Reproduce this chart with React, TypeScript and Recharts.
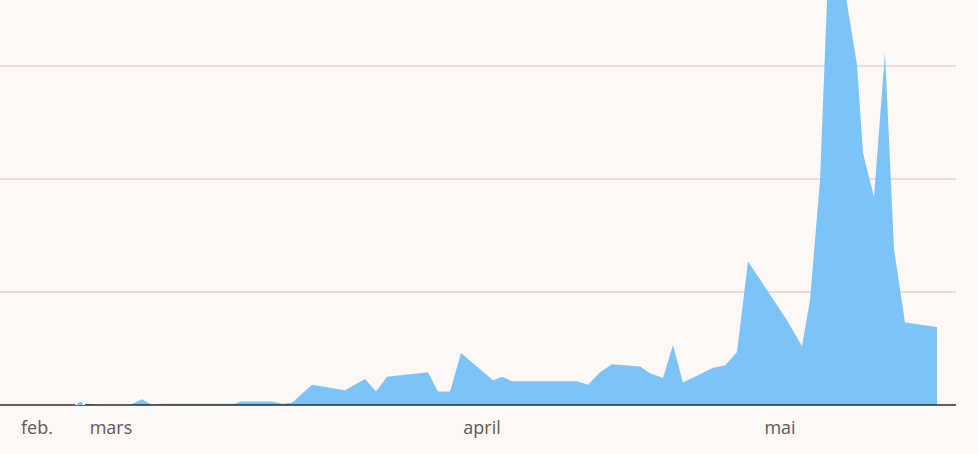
import { Area, AreaChart, CartesianGrid, XAxis, YAxis } from "recharts";

// x = dag (day index along the axis), y = antall
const dag = [
  8, 9, 10, 13, 14.2, 15.2, 16.2, 23.5, 24, 27.2, 28.2, 29.2, 31.2, 34.5, 36.5, 37.6, 38.7,
  42.8, 43.8, 45, 46.1, 49.3, 50.2, 51.2, 57.7, 58.8, 60, 61.2, 64, 65, 66.3, 67.3, 68.3,
  71.3, 72.5, 73.7, 74.8, 78.7, 80.2, 81, 82, 82.9, 84, 85.7, 86.3, 87.4, 88.5, 89.4,
  90.5, 93.7,
];
const antall = [
  0, 1, 0, 0, 5, 0, 1, 1, 3, 3, 1, 2, 18, 13, 23, 12, 25,
  29, 12, 12, 46, 22, 25, 21, 21, 18, 29, 36, 34, 28, 24, 53, 20,
  33, 35, 47, 127, 75, 52, 93, 199, 403, 394, 301, 223, 184, 312, 138,
  73, 69,
];

const gridVerdier = [100, 200, 300];
const tickDag = [3.7, 11.1, 48.2, 78];
const tickLabels = ["feb.", "mars", "april", "mai"];

const data = dag.map((d, i) => ({ dag: d, antall: antall[i] }));

export default function App() {
  return (
    <div style={{ position: "fixed", left: 0, top: 0, width: 978, height: 454, background: "#fdf8f5" }}>
      <AreaChart width={978} height={454} data={data} margin={{ top: 0, right: 22, bottom: 0, left: 0 }}>
        <CartesianGrid vertical={false} horizontalValues={gridVerdier} stroke="#dcd6d2" strokeWidth={1.5} />
        <YAxis
          hide
          type="number"
          domain={[0, 358.4]}
          ticks={[0, 100, 200, 300]}
          allowDataOverflow
        />
        <XAxis
          dataKey="dag"
          type="number"
          domain={[0, 95.6]}
          ticks={tickDag}
          tickFormatter={(v: number) => tickLabels[tickDag.indexOf(v)] ?? ""}
          tickLine={false}
          axisLine={{ stroke: "#2b2b2b", strokeWidth: 1.5 }}
          height={49}
          interval={0}
          tick={{ fill: "#5f5a57", fontSize: 18, fontFamily: "Open Sans" }}
          tickMargin={10}
        />
        <Area
          type="linear"
          dataKey="antall"
          stroke="none"
          fill="#7cc4f8"
          fillOpacity={1}
          isAnimationActive={false}
        />
      </AreaChart>
    </div>
  );
}
